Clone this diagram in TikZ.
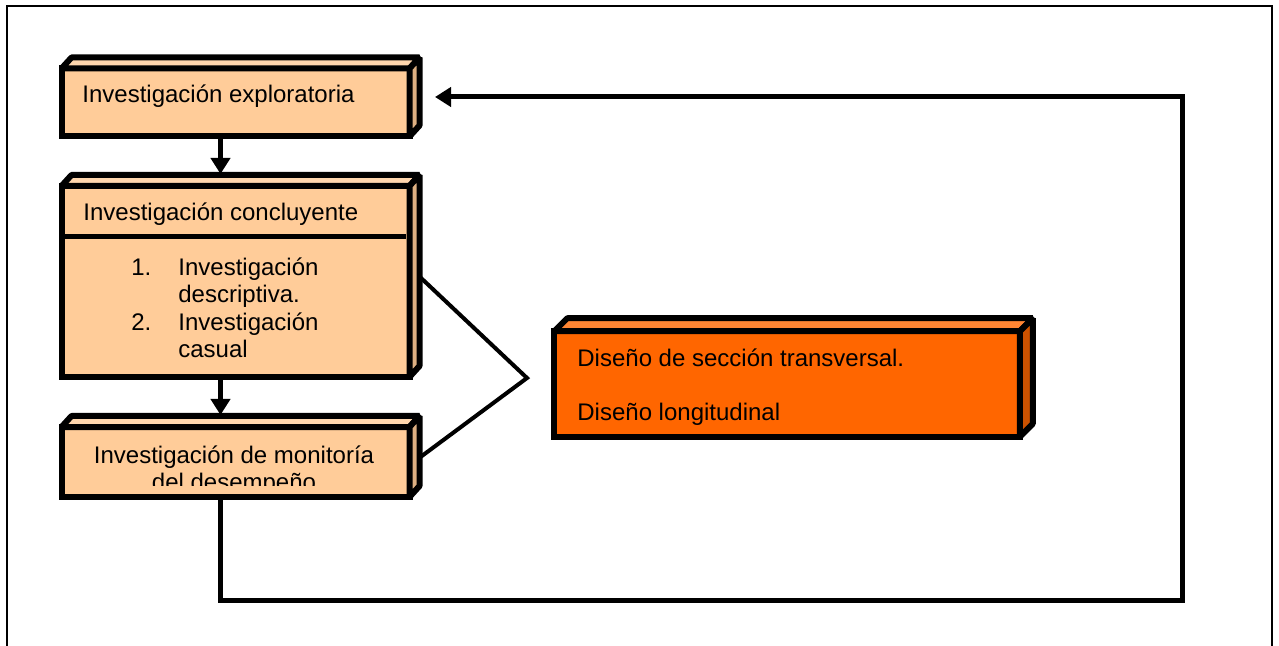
\documentclass[tikz,border=0pt]{standalone}
\usepackage{fontspec}
\setmainfont{Liberation Sans}
\usepackage{xcolor}
\usetikzlibrary{positioning,arrows.meta,calc}

\definecolor{durazno}{RGB}{255,204,153}
\definecolor{duraznotapa}{RGB}{255,214,173}
\definecolor{duraznolado}{RGB}{222,176,130}
\definecolor{naranja}{RGB}{255,102,0}
\definecolor{naranjatapa}{RGB}{255,133,51}
\definecolor{naranjalado}{RGB}{204,82,0}

\begin{document}
\begin{tikzpicture}[
    x=0.5pt, y=-0.5pt,
    caja/.style={draw, line width=3pt, fill=durazno, minimum width=174pt, outer sep=0pt, inner sep=0pt},
    tapa/.style={draw, line width=3pt, fill=duraznotapa, line join=bevel},
    lado/.style={draw, line width=3pt, fill=duraznolado, line join=bevel},
    texto/.style={anchor=base west, inner sep=0pt, font=\fontsize{12}{13.5}\selectfont},
    flecha/.style={-{Triangle[width=9.5pt,length=8pt]}, line width=2.5pt},
    rama/.style={line width=2pt},
    marco/.style={line width=1pt}
]
\useasboundingbox (0,0) rectangle (1279,646);

% Outer frame (open at the bottom)
\draw[marco] (7,660) -- (7,6) -- (1272,6) -- (1272,660);

% Boxes
\node[caja, minimum height=34pt] (expl) at (235.5,102.5) {};
\node[caja, minimum height=95.5pt] (concl) at (235.5,281.5) {};
\node[caja, minimum height=35pt] (monit) at (235.5,462) {};
\node[caja, fill=naranja, minimum width=232.75pt, minimum height=52.75pt] (disenos) at (787,384) {};

% 3D faces
\filldraw[tapa] (expl.north west) -- ++(10,-11) -- ($(expl.north east)+(10,-11)$) -- (expl.north east) -- cycle;
\filldraw[lado] (expl.north east) -- ++(10,-11) -- ($(expl.south east)+(10,-11)$) -- (expl.south east) -- cycle;
\filldraw[tapa] (concl.north west) -- ++(10,-11) -- ($(concl.north east)+(10,-11)$) -- (concl.north east) -- cycle;
\filldraw[lado] (concl.north east) -- ++(10,-11) -- ($(concl.south east)+(10,-11)$) -- (concl.south east) -- cycle;
\filldraw[tapa] (monit.north west) -- ++(10,-11) -- ($(monit.north east)+(10,-11)$) -- (monit.north east) -- cycle;
\filldraw[lado] (monit.north east) -- ++(10,-11) -- ($(monit.south east)+(10,-11)$) -- (monit.south east) -- cycle;
\filldraw[tapa, fill=naranjatapa] (disenos.north west) -- ++(13,-13) -- ($(disenos.north east)+(13,-13)$) -- (disenos.north east) -- cycle;
\filldraw[lado, fill=naranjalado] (disenos.north east) -- ++(13,-13) -- ($(disenos.south east)+(13,-13)$) -- (disenos.south east) -- cycle;

% Divider in the second box
\draw[line width=2.5pt] ($(concl.north west)+(0,51)$) -- ($(concl.north east)+(-4,51)$);

% Texts
\node[texto] (t-expl) at (82,103) {Investigación exploratoria};
\node[texto] (t-concl) at (83,221) {Investigación concluyente};
\node[texto] (n1) at (131,276) {1.};
\node[texto] (l1) at (178,276) {Investigación};
\node[texto] (l2) at (178,303) {descriptiva.};
\node[texto] (n2) at (131,331) {2.};
\node[texto] (l3) at (178,331) {Investigación};
\node[texto] (l4) at (178,358) {casual};
\node[texto, anchor=base] (t-monit) at (234,463) {Investigación de monitoría};
\begin{scope}
\clip (64,430) rectangle (407,485);
\node[texto, anchor=base] (t-desem) at (234,490) {del desempeño};
\end{scope}
\node[texto] (t-trans) at (577,367) {Diseño de sección transversal.};
\node[texto] (t-long) at (577,421) {Diseño longitudinal};

% Arrows down
\draw[flecha] ($(expl.south)+(-15,0)$) -- ($(concl.north)+(-15,-12)$);
\draw[flecha] ($(concl.south)+(-15,0)$) -- ($(monit.north)+(-15,-12)$);

% Feedback loop
\coordinate (esqinf) at (1182,600);
\coordinate (entrada) at (435,97);
\draw[flecha] ($(monit.south)+(-15,0)$) |- (esqinf) |- (entrada);

% Branches to the designs
\coordinate (vertice) at (527,378);
\draw[rama] ($(concl.east)+(11,-4)$) -- (vertice) -- ($(monit.east)+(11,-5)$);

\end{tikzpicture}
\end{document}
